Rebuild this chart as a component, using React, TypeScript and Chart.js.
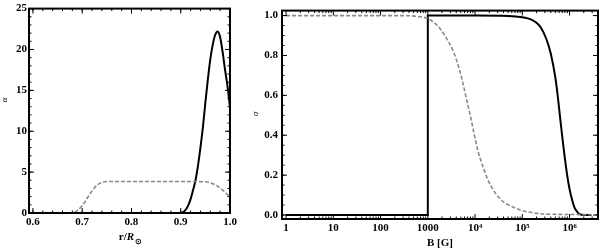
import React, { useEffect, useRef } from "react";
import { Chart, registerables } from "chart.js";

Chart.register(...registerables);

// ---------- Data (left panel: alpha vs r/R_sun) ----------
const leftBlackR = [0.6, 0.9, 0.905, 0.91, 0.915, 0.92, 0.925, 0.93, 0.935, 0.94, 0.945, 0.95, 0.955, 0.96, 0.965, 0.97, 0.975, 0.98, 0.985, 0.99, 0.995, 1.0];
const leftBlackAlpha = [0, 0, 0.1, 0.4, 0.9, 1.7, 2.8, 4.0, 5.8, 8.0, 10.5, 13.5, 16.3, 18.8, 20.6, 21.8, 22.2, 21.5, 19.7, 17.5, 15.5, 12.9];
const leftGrayR = [0.6, 0.68, 0.69, 0.7, 0.71, 0.72, 0.73, 0.74, 0.75, 0.8, 0.9, 0.95, 0.96, 0.97, 0.98, 0.99, 1.0];
const leftGrayAlpha = [0, 0, 0.3, 0.9, 1.8, 2.7, 3.4, 3.75, 3.85, 3.85, 3.85, 3.82, 3.7, 3.45, 3.05, 2.55, 1.95];
const leftXTicks = [0.6, 0.7, 0.8, 0.9, 1.0];
const leftYTicks = [0, 5, 10, 15, 20, 25];

// ---------- Data (right panel: sigma vs B [G]) ----------
const rightBlackB = [1, 1000, 1000, 1e4, 5e4, 1e5, 1.3e5, 1.6e5, 2e5, 2.5e5, 3.2e5, 4e5, 5e5, 5.6e5, 6.3e5, 7.1e5, 7.9e5, 8.9e5, 1e6, 1.12e6, 1.26e6, 1.41e6, 1.58e6, 1.78e6, 2.9e6];
const rightBlackSigma = [0, 0, 1, 1, 0.998, 0.992, 0.986, 0.978, 0.964, 0.938, 0.885, 0.81, 0.69, 0.6, 0.49, 0.38, 0.29, 0.2, 0.13, 0.08, 0.04, 0.02, 0.006, 0.001, 0];
const rightGrayB = [1, 316, 631, 1000, 1585, 2290, 3470, 4570, 5620, 6760, 8130, 9550, 11500, 14800, 20400, 36300, 63100, 1e5, 2.1e5, 6.3e5, 2.9e6];
const rightGraySigma = [1.0, 1.0, 0.995, 0.985, 0.95, 0.9, 0.82, 0.737, 0.654, 0.569, 0.487, 0.406, 0.322, 0.24, 0.157, 0.074, 0.04, 0.022, 0.008, 0.003, 0.002];
const rightXTicks = [1, 10, 100, 1000, 1e4, 1e5, 1e6];
const rightXTickLabels = ["1", "10", "100", "1000", "10\u2074", "10\u2075", "10\u2076"];
const rightYTicks = [0, 0.2, 0.4, 0.6, 0.8, 1.0];

const SERIF = "'Liberation Serif', 'Times New Roman', serif";
const GRAY = "#8a8a8a";

function minorLinear(from: number, to: number, step: number) {
  const out: number[] = [];
  for (let v = from; v <= to + 1e-9; v += step) out.push(+v.toFixed(6));
  return out;
}
function minorLog(decFrom: number, decTo: number) {
  const out: number[] = [];
  for (let d = decFrom; d <= decTo; d++) for (let m = 2; m <= 9; m++) out.push(m * Math.pow(10, d));
  return out;
}

function framePlugin(o: { xMajor: number[]; xMinor: number[]; yMajor: number[]; yMinor: number[]; titles: (ctx: CanvasRenderingContext2D) => void }) {
  return {
    id: "frameTicks",
    afterDatasetsDraw(chart: any) {
      const { ctx, chartArea: a, scales } = chart;
      const xs = scales.x, ys = scales.y;
      ctx.save();
      ctx.strokeStyle = "#000";
      ctx.lineWidth = 1;
      const seg = (x1: number, y1: number, x2: number, y2: number) => {
        ctx.beginPath(); ctx.moveTo(x1, y1); ctx.lineTo(x2, y2); ctx.stroke();
      };
      const inX = (v: number) => { const p = xs.getPixelForValue(v); return p >= a.left - 0.5 && p <= a.right + 0.5 ? p : null; };
      const inY = (v: number) => { const p = ys.getPixelForValue(v); return p >= a.top - 0.5 && p <= a.bottom + 0.5 ? p : null; };
      for (const v of o.xMajor) { const p = inX(v); if (p !== null) { seg(p, a.bottom, p, a.bottom - 5); seg(p, a.top, p, a.top + 5); } }
      for (const v of o.xMinor) { const p = inX(v); if (p !== null) { seg(p, a.bottom, p, a.bottom - 2.5); seg(p, a.top, p, a.top + 2.5); } }
      for (const v of o.yMajor) { const p = inY(v); if (p !== null) { seg(a.left, p, a.left + 5, p); seg(a.right, p, a.right - 5, p); } }
      for (const v of o.yMinor) { const p = inY(v); if (p !== null) { seg(a.left, p, a.left + 2.5, p); seg(a.right, p, a.right - 2.5, p); } }
      ctx.lineWidth = 2;
      ctx.strokeRect(a.left, a.top, a.right - a.left, a.bottom - a.top);
      ctx.fillStyle = "#000";
      o.titles(ctx);
      ctx.restore();
    },
  };
}

function tickFont() {
  return { family: SERIF, size: 11, weight: "bold" as const };
}

function LeftChart() {
  const ref = useRef<HTMLCanvasElement>(null);
  useEffect(() => {
    const chart = new Chart(ref.current!, {
      type: "line",
      data: {
        datasets: [
          {
            data: leftGrayR.map((x, i) => ({ x, y: leftGrayAlpha[i] })),
            borderColor: GRAY, borderWidth: 1.6, borderDash: [4, 2], pointRadius: 0,
            cubicInterpolationMode: "monotone", fill: false,
          },
          {
            data: leftBlackR.map((x, i) => ({ x, y: leftBlackAlpha[i] })),
            borderColor: "#000", borderWidth: 2, pointRadius: 0,
            cubicInterpolationMode: "monotone", fill: false,
          },
        ],
      },
      options: {
        responsive: false, animation: false, events: [],
        layout: { padding: { top: 8, right: 10, left: 0, bottom: 0 } },
        plugins: { legend: { display: false }, tooltip: { enabled: false } },
        scales: {
          x: {
            type: "linear", min: 0.592, max: 1.0,
            grid: { display: false, drawTicks: false }, border: { display: false },
            afterBuildTicks: (s: any) => { s.ticks = leftXTicks.map((value) => ({ value })); },
            afterFit: (s: any) => { s.height = 38; },
            ticks: { padding: 3, color: "#000", font: tickFont(), maxRotation: 0, autoSkip: false, callback: (v: any) => Number(v).toFixed(1) },
          },
          y: {
            type: "linear", min: 0, max: 25,
            grid: { display: false, drawTicks: false }, border: { display: false },
            afterBuildTicks: (s: any) => { s.ticks = leftYTicks.map((value) => ({ value })); },
            afterFit: (s: any) => { s.width = 29; },
            ticks: { padding: 2, color: "#000", font: tickFont(), autoSkip: false, callback: (v: any) => String(v) },
          },
        },
      },
      plugins: [
        framePlugin({
          xMajor: leftXTicks, xMinor: minorLinear(0.6, 1.0, 0.02),
          yMajor: leftYTicks, yMinor: minorLinear(0, 25, 1),
          titles: (ctx) => {
            ctx.save();
            ctx.translate(5, 100);
            ctx.rotate(-Math.PI / 2);
            ctx.font = `italic 9px ${SERIF}`;
            ctx.textAlign = "center"; ctx.textBaseline = "middle";
            ctx.fillText("\u03B1", 0, 0);
            ctx.restore();
            // r/R_sun
            const f1 = `bold 11px ${SERIF}`, f2 = `bold italic 11px ${SERIF}`, f3 = `bold 8px ${SERIF}`;
            ctx.textBaseline = "alphabetic"; ctx.textAlign = "left";
            ctx.font = f1; const w1 = ctx.measureText("r/").width;
            ctx.font = f2; const w2 = ctx.measureText("R").width;
            ctx.font = f3; const w3 = ctx.measureText("\u2299").width;
            let x = 130 - (w1 + w2 + w3) / 2;
            const base = 240;
            ctx.font = f1; ctx.fillText("r/", x, base); x += w1;
            ctx.font = f2; ctx.fillText("R", x, base); x += w2 + 0.5;
            ctx.font = f3; ctx.fillText("\u2299", x, base + 3.5);
          },
        }),
      ],
    } as any);
    return () => chart.destroy();
  }, []);
  return <canvas ref={ref} width={240} height={251} style={{ position: "absolute", left: 0, top: 0, width: 240, height: 251 }} />;
}

function RightChart() {
  const ref = useRef<HTMLCanvasElement>(null);
  useEffect(() => {
    const chart = new Chart(ref.current!, {
      type: "line",
      data: {
        datasets: [
          {
            data: rightGrayB.map((x, i) => ({ x, y: rightGraySigma[i] })),
            borderColor: GRAY, borderWidth: 1.6, borderDash: [4, 2], pointRadius: 0,
            cubicInterpolationMode: "monotone", fill: false,
          },
          {
            data: rightBlackB.map((x, i) => ({ x, y: rightBlackSigma[i] })),
            borderColor: "#000", borderWidth: 2, pointRadius: 0,
            cubicInterpolationMode: "monotone", fill: false,
          },
        ],
      },
      options: {
        responsive: false, animation: false, events: [],
        layout: { padding: { top: 8, right: 2, left: 0, bottom: 0 } },
        plugins: { legend: { display: false }, tooltip: { enabled: false } },
        scales: {
          x: {
            type: "logarithmic", min: 0.82, max: 4e6,
            grid: { display: false, drawTicks: false }, border: { display: false },
            afterBuildTicks: (s: any) => { s.ticks = rightXTicks.map((value) => ({ value })); },
            afterFit: (s: any) => { s.height = 32; },
            ticks: {
              padding: 3, color: "#000", font: tickFont(), maxRotation: 0, autoSkip: false,
              callback: (v: any) => { const i = rightXTicks.indexOf(Number(v)); return i >= 0 ? rightXTickLabels[i] : ""; },
            },
          },
          y: {
            type: "linear", min: -0.02, max: 1.025,
            grid: { display: false, drawTicks: false }, border: { display: false },
            afterBuildTicks: (s: any) => { s.ticks = rightYTicks.map((value) => ({ value })); },
            afterFit: (s: any) => { s.width = 42; },
            ticks: { padding: 4, color: "#000", font: tickFont(), autoSkip: false, callback: (v: any) => Number(v).toFixed(1) },
          },
        },
      },
      plugins: [
        framePlugin({
          xMajor: rightXTicks, xMinor: minorLog(0, 6),
          yMajor: rightYTicks, yMinor: minorLinear(0, 1.0, 0.05),
          titles: (ctx) => {
            ctx.save();
            ctx.translate(16, 114);
            ctx.rotate(-Math.PI / 2);
            ctx.font = `italic 9px ${SERIF}`;
            ctx.textAlign = "center"; ctx.textBaseline = "middle";
            ctx.fillText("\u03C3", 0, 0);
            ctx.restore();
            ctx.font = `bold 11px ${SERIF}`;
            ctx.textAlign = "center"; ctx.textBaseline = "alphabetic";
            ctx.fillText("B [G]", 200, 246);
          },
        }),
      ],
    } as any);
    return () => chart.destroy();
  }, []);
  return <canvas ref={ref} width={360} height={251} style={{ position: "absolute", left: 240, top: 0, width: 360, height: 251 }} />;
}

export default function App() {
  return (
    <div style={{ position: "absolute", left: 0, top: 0, width: 600, height: 251, background: "#fff", overflow: "hidden" }}>
      <LeftChart />
      <RightChart />
    </div>
  );
}
